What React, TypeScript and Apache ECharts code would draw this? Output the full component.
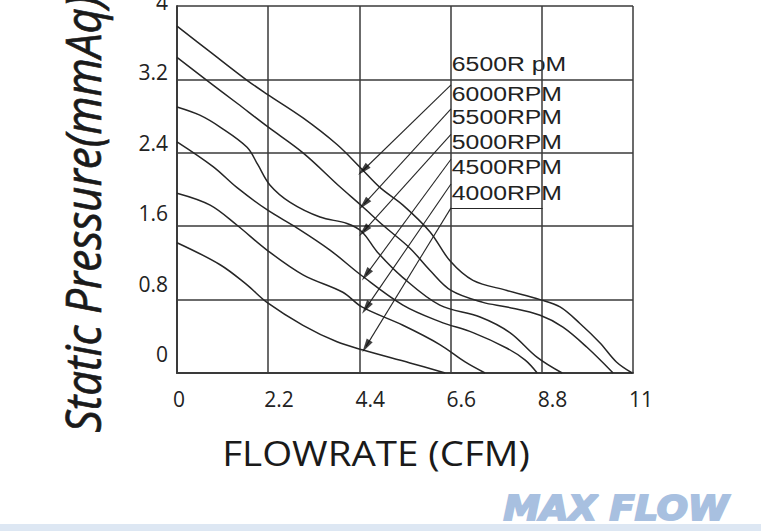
import React, { useEffect, useRef } from 'react';
import * as echarts from 'echarts';

const xTickLabels = ['0', '2.2', '4.4', '6.6', '8.8', '11'];
const yTickLabels = ['0', '0.8', '1.6', '2.4', '3.2', '4'];
const rpmLabels = ['6500R pM', '6000RPM', '5500RPM', '5000RPM', '4500RPM', '4000RPM'];
const rpmLabelY = [3.37, 3.04, 2.79, 2.52, 2.25, 1.97];
const rpmLabelX = 6.63;

const curve6500 = [[0, 3.78], [0.8, 3.5], [1.69, 3.19], [2.17, 3.04], [3.04, 2.78], [3.86, 2.49], [4.42, 2.24], [4.9, 2.02], [5.45, 1.83], [6.1, 1.54], [6.59, 1.22], [7.14, 1.01], [7.96, 0.9], [8.76, 0.8], [9.24, 0.72], [9.72, 0.54], [10.2, 0.33], [10.6, 0.12], [10.98, 0]];
const curve6000 = [[0, 3.44], [0.72, 3.19], [1.45, 2.94], [2.17, 2.69], [3.04, 2.4], [3.93, 2.03], [4.46, 1.82], [4.97, 1.61], [5.62, 1.36], [6.1, 1.12], [6.61, 0.9], [7.38, 0.77], [7.96, 0.72], [8.76, 0.63], [9.31, 0.5], [9.89, 0.28], [10.52, 0]];
const curve5500 = [[0, 2.9], [0.55, 2.81], [1.04, 2.68], [1.69, 2.46], [1.95, 2.27], [2.24, 2.05], [2.73, 1.86], [3.45, 1.7], [4.1, 1.63], [4.46, 1.54], [4.83, 1.32], [5.45, 1.04], [6.34, 0.74], [7.31, 0.61], [8.03, 0.44], [8.69, 0.17], [9.29, 0]];
const curve5000 = [[0, 2.52], [0.87, 2.25], [1.45, 2.02], [2.17, 1.78], [2.9, 1.58], [3.69, 1.34], [4.46, 1.06], [5.45, 0.74], [6.34, 0.56], [7.14, 0.44], [7.96, 0.27], [8.4, 0.14], [8.69, 0]];
const curve4500 = [[0, 1.96], [0.8, 1.83], [1.45, 1.61], [2.17, 1.34], [3.04, 1.07], [4.0, 0.88], [4.46, 0.72], [5.45, 0.52], [6.34, 0.31], [6.95, 0.12], [7.43, 0]];
const curve4000 = [[0, 1.42], [1.04, 1.18], [1.69, 0.96], [2.17, 0.77], [3.04, 0.52], [3.86, 0.34], [4.49, 0.25], [5.62, 0.11], [6.47, 0]];

const curves = [curve6500, curve6000, curve5500, curve5000, curve4500, curve4000];

const arrowStarts = [[6.61, 3.14], [6.61, 2.88], [6.61, 2.6], [6.61, 2.33], [6.61, 2.06], [6.61, 1.8]];
const arrowTips = [[4.49, 2.21], [4.51, 1.84], [4.51, 1.55], [4.56, 1.07], [4.56, 0.71], [4.56, 0.29]];
const labelBoxLine = [[6.61, 1.8], [8.82, 1.8]];

const GL = 177, GT = 6, GW = 456, GH = 367;
const XMAX = 11, YMAX = 4;
const toPx = (x: number, y: number) => [GL + (x / XMAX) * GW, GT + GH - (y / YMAX) * GH];

const INK = '#262626';
const GRID = '#3a3a3a';

export default function App() {
  const ref = useRef<HTMLDivElement>(null);
  useEffect(() => {
    if (!ref.current) return;
    const chart = echarts.init(ref.current, null, { renderer: 'svg', width: 761, height: 531 });

    const markData: any[] = arrowStarts.map((s, i) => [{ coord: s }, { coord: arrowTips[i] }]);
    markData.push([{ coord: labelBoxLine[0] }, { coord: labelBoxLine[1] }]);

    const series: any[] = curves.map((c, i) => ({
      type: 'line',
      xAxisIndex: 0,
      yAxisIndex: 0,
      data: c,
      smooth: 0.35,
      symbol: 'none',
      silent: true,
      lineStyle: { color: INK, width: 1.5 },
      markLine:
        i === 0
          ? {
              silent: true,
              symbol: ['none', 'none'],
              label: { show: false },
              lineStyle: { color: INK, width: 1.1, type: 'solid' },
              emphasis: { disabled: true },
              data: markData,
            }
          : undefined,
    }));

    const heads = arrowTips.map((t, i) => {
      const [sx, sy] = toPx(arrowStarts[i][0], arrowStarts[i][1]);
      const [tx, ty] = toPx(t[0], t[1]);
      const dx = tx - sx;
      const dy = ty - sy;
      const deg = (Math.atan2(-dx, -dy) * 180) / Math.PI;
      return { value: t, symbolRotate: deg };
    });

    series.push({
      type: 'scatter',
      xAxisIndex: 0,
      yAxisIndex: 0,
      data: heads,
      symbol: 'triangle',
      symbolSize: [7, 14],
      silent: true,
      z: 5,
      itemStyle: { color: '#111' },
    });

    const rpmTexts = rpmLabels.map((t, i) => {
      const [px, py] = toPx(rpmLabelX, rpmLabelY[i]);
      return {
        type: 'text',
        x: px,
        y: py,
        scaleX: 1.18,
        silent: true,
        style: {
          text: t,
          fontFamily: 'Liberation Sans',
          fontSize: 21,
          fill: '#222',
          textAlign: 'left',
          textVerticalAlign: 'middle',
        },
      };
    });

    const option: any = {
      animation: false,
      backgroundColor: '#ffffff',
      grid: [
        { left: GL, top: GT, width: GW, height: GH, outerBoundsMode: 'none', containLabel: false },
        { left: GL - 4, top: GT, width: GW, height: GH, outerBoundsMode: 'none', containLabel: false },
        { left: GL, top: 2, width: GW, height: 352, outerBoundsMode: 'none', containLabel: false },
      ],
      xAxis: [
        {
          gridIndex: 0,
          type: 'value',
          min: 0,
          max: XMAX,
          interval: 2.2,
          axisLine: { show: true, lineStyle: { color: GRID, width: 2 } },
          axisTick: { show: false },
          axisLabel: { show: false },
          splitLine: { show: true, lineStyle: { color: GRID, width: 1.5 } },
        },
        {
          gridIndex: 1,
          type: 'value',
          min: 0,
          max: XMAX,
          interval: 2.2,
          axisLine: { show: false },
          axisTick: { show: false },
          splitLine: { show: false },
          axisLabel: {
            show: true,
            align: 'left',
            margin: 15,
            fontFamily: 'Open Sans',
            fontSize: 21,
            color: '#222',
            showMinLabel: true,
            showMaxLabel: true,
            formatter: (_v: number, i: number) => xTickLabels[i],
          },
        },
        { gridIndex: 2, type: 'value', show: false, min: 0, max: 1 },
      ],
      yAxis: [
        {
          gridIndex: 0,
          type: 'value',
          min: 0,
          max: YMAX,
          interval: 0.8,
          axisLine: { show: true, lineStyle: { color: GRID, width: 2 } },
          axisTick: { show: false },
          axisLabel: { show: false },
          splitLine: { show: true, lineStyle: { color: GRID, width: 1.5 } },
        },
        { gridIndex: 1, type: 'value', show: false, min: 0, max: 1 },
        {
          gridIndex: 2,
          type: 'value',
          min: 0,
          max: YMAX,
          interval: 0.8,
          axisLine: { show: false },
          axisTick: { show: false },
          splitLine: { show: false },
          axisLabel: {
            show: true,
            margin: 9,
            fontFamily: 'Open Sans',
            fontSize: 21,
            color: '#222',
            showMinLabel: true,
            showMaxLabel: true,
            formatter: (_v: number, i: number) => yTickLabels[i],
          },
        },
      ],
      series,
      graphic: [
        {
          type: 'text',
          x: 82,
          y: 214,
          rotation: Math.PI / 2,
          scaleY: 1.14,
          silent: true,
          style: {
            text: 'Static Pressure(mmAq)',
            fontFamily: 'Open Sans',
            fontStyle: 'italic',
            fontSize: 44,
            fill: '#1a1a1a',
            stroke: '#1a1a1a',
            lineWidth: 0.6,
            textAlign: 'center',
            textVerticalAlign: 'middle',
          },
        },
        {
          type: 'text',
          x: 376,
          y: 453,
          scaleX: 1.1,
          silent: true,
          style: {
            text: 'FLOWRATE (CFM)',
            fontFamily: 'Open Sans',
            fontSize: 35,
            fill: '#1a1a1a',
            textAlign: 'center',
            textVerticalAlign: 'middle',
          },
        },
        ...rpmTexts,
        {
          type: 'rect',
          silent: true,
          shape: { x: 0, y: 524, width: 761, height: 7 },
          style: { fill: '#dde7f3' },
        },
        {
          type: 'text',
          x: 616,
          y: 508,
          scaleX: 1.08,
          silent: true,
          style: {
            text: 'MAX FLOW',
            fontFamily: 'DejaVu Sans',
            fontWeight: 'bold',
            fontStyle: 'italic',
            fontSize: 34,
            fill: '#a8c0e0',
            stroke: '#a8c0e0',
            lineWidth: 2,
            textAlign: 'center',
            textVerticalAlign: 'middle',
          },
        },
      ],
    };

    chart.setOption(option);
    return () => chart.dispose();
  }, []);

  return (
    <div
      ref={ref}
      style={{ position: 'fixed', left: 0, top: 0, width: 761, height: 531, background: '#fff' }}
    />
  );
}
